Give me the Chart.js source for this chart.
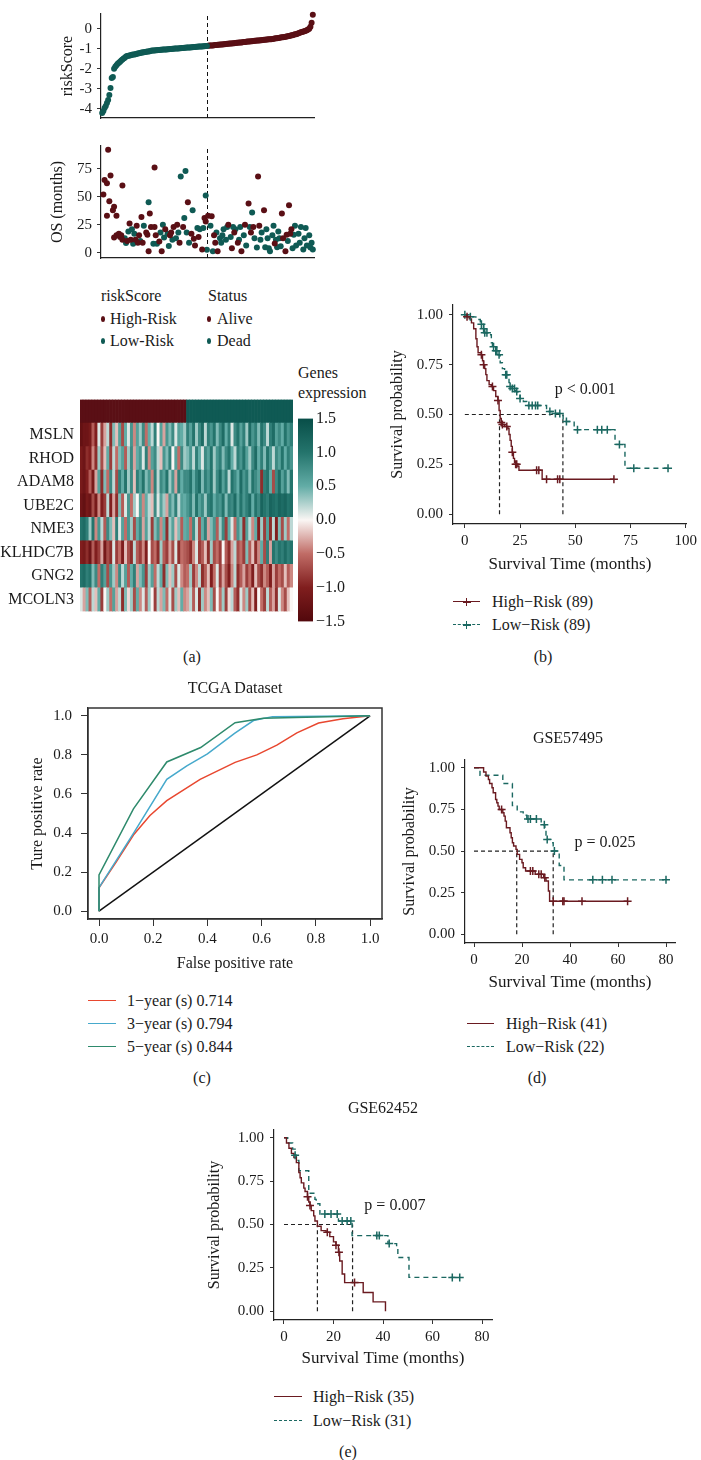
<!DOCTYPE html>
<html>
<head>
<meta charset="utf-8">
<script src="https://cdn.jsdelivr.net/npm/chart.js@4.4.1/dist/chart.umd.min.js"></script>
<style>
  html, body { margin: 0; padding: 0; background: #fff; }
  #page { position: relative; width: 701px; height: 1460px; overflow: hidden;
          font-family: "Liberation Serif", serif; color: #1a1a1a; }
  #page canvas { position: absolute; }
  .t { position: absolute; white-space: nowrap; font-size: 16px; line-height: 1.2; }
</style>
</head>
<body>
<div id="page"></div>
<script>
// ---- (a) risk score curve, ordered low -> high
const riskScoreLow = [
  -4.2, -4.1, -3.95, -3.85, -3.7, -3.55, -3.3, -2.95, -2.45, -2.4,
  -2.0, -1.9, -1.82, -1.75, -1.7, -1.64, -1.58, -1.53, -1.48, -1.44,
  -1.38, -1.36, -1.35, -1.33, -1.32, -1.3, -1.29, -1.28, -1.27, -1.25,
  -1.24, -1.22, -1.21, -1.19, -1.18, -1.17, -1.16, -1.15, -1.14, -1.13,
  -1.12, -1.1, -1.09, -1.09, -1.08, -1.07, -1.07, -1.06, -1.06, -1.05,
  -1.05, -1.04, -1.04, -1.03, -1.03, -1.02, -1.02, -1.01, -1.01, -1.0,
  -1.0, -0.99, -0.99, -0.98, -0.98, -0.97, -0.97, -0.96, -0.96, -0.95,
  -0.95, -0.94, -0.94, -0.93, -0.93, -0.92, -0.92, -0.91, -0.91, -0.9,
  -0.9, -0.89, -0.89, -0.88, -0.88, -0.87, -0.87, -0.86, -0.86
];
const riskScoreHigh = [
  -0.85, -0.84, -0.84, -0.83, -0.83, -0.82, -0.81, -0.81, -0.8, -0.8,
  -0.79, -0.78, -0.78, -0.77, -0.77, -0.76, -0.75, -0.75, -0.74, -0.74,
  -0.73, -0.72, -0.72, -0.71, -0.7, -0.7, -0.69, -0.68, -0.68, -0.67,
  -0.66, -0.66, -0.65, -0.64, -0.64, -0.63, -0.62, -0.62, -0.61, -0.6,
  -0.6, -0.59, -0.59, -0.58, -0.57, -0.57, -0.56, -0.55, -0.55, -0.54,
  -0.54, -0.53, -0.52, -0.52, -0.51, -0.5, -0.49, -0.48, -0.47, -0.46,
  -0.45, -0.44, -0.43, -0.42, -0.41, -0.4, -0.39, -0.38, -0.36, -0.35,
  -0.33, -0.32, -0.3, -0.28, -0.27, -0.25, -0.23, -0.2, -0.18, -0.16,
  -0.14, -0.12, -0.1, -0.07, -0.04, 0.0, 0.1, 0.3, 0.7
];
const riskTicks = [0, -1, -2, -3, -4];

// ---- (a) overall survival per patient rank
const osRank = [
  1, 2, 4, 5, 4, 6, 7, 9, 10, 12, 10, 12, 14, 15, 16, 17, 17, 19, 20, 21,
  23, 22, 24, 25, 27, 26, 28, 29, 30, 31, 32, 33, 34, 35, 37, 38, 39, 39, 40, 41,
  43, 44, 44, 45, 46, 48, 49, 50, 51, 52, 53, 55, 56, 57, 58, 59, 60, 62, 63, 64,
  65, 66, 68, 69, 70, 71, 72, 73, 75, 76, 77, 78, 80, 81, 82, 84, 85, 86, 87, 87, 88,
  89, 91, 92, 93, 94, 95, 96, 97, 99, 100, 101, 102, 104, 105, 106, 108, 109, 110, 111, 112,
  114, 115, 116, 117, 119, 120, 121, 123, 124, 125, 126, 127, 128, 130, 131, 132, 133, 134, 136, 137,
  138, 139, 140, 141, 143, 144, 145, 146, 147, 148, 149, 150, 151, 152, 154, 155, 156, 157, 158, 159,
  160, 161, 162, 163, 165, 166, 167, 169, 170, 171, 172, 174, 175, 176, 177
];
const osMonths = [
  52, 65, 62, 92, 33, 46, 69, 38, 41, 33, 13.5, 15.6, 17, 14, 15.6, 60, 11.7, 13, 8.6, 10.4,
  26, 19, 11.7, 21, 17, 8, 11.7, 24, 9, 15.6, 10.4, 32, 9, 24, 18, 16, 45, 1.3, 35, 23,
  8, 76, 23, 15.6, 8, 10, 18, 1.3, 25, 13.5, 21, 17, 6, 15.6, 18, 11.7, 23, 13, 25, 18,
  9, 68, 23, 31, 73, 18, 45, 9, 17, 38, 12.5, 6.5, 22, 14, 21, 3, 22, 31, 28, 51, 2.6,
  33, 24, 32.5, 1.3, 15.6, 9, 18, 1.3, 13, 9, 15.6, 21, 11.7, 23, 25, 14, 4, 23, 18, 21,
  9, 11.7, 23, 1.3, 15.6, 25, 6.5, 44, 23, 18, 36, 23, 13, 4.7, 68, 24, 11.7, 18, 38, 5,
  21, 13, 4, 1.3, 15.6, 24, 8.3, 11.7, 5, 19, 13, 5.7, 35, 13, 1.3, 16, 10.4, 42.5, 17, 21,
  4, 16, 24, 6.5, 17, 9, 23, 3, 13, 22, 6.5, 15.6, 4.7, 9, 3
];
// 1 = Dead, 0 = Alive
const osDead = [
  0, 0, 0, 0, 0, 0, 0, 0, 0, 0, 0, 0, 0, 0, 0, 0, 0, 1, 1, 0,
  0, 1, 0, 1, 1, 1, 0, 0, 0, 0, 1, 0, 0, 1, 0, 0, 1, 0, 0, 0,
  1, 0, 0, 0, 1, 0, 1, 0, 1, 1, 0, 1, 1, 0, 0, 1, 0, 1, 0, 1,
  0, 1, 0, 1, 1, 1, 0, 1, 0, 1, 0, 0, 1, 0, 1, 0, 1, 0, 0, 1, 1,
  0, 1, 0, 1, 0, 0, 1, 0, 1, 1, 1, 1, 1, 1, 0, 1, 0, 1, 0, 1,
  0, 1, 1, 0, 1, 0, 1, 0, 1, 0, 1, 0, 1, 1, 0, 0, 1, 1, 0, 1,
  1, 1, 1, 1, 1, 1, 0, 1, 1, 1, 1, 1, 0, 0, 0, 0, 1, 0, 0, 0,
  1, 1, 1, 1, 1, 1, 1, 1, 1, 1, 1, 1, 1, 1, 1
];
const osTicks = [0, 25, 50, 75];

// ---- (a) heatmap, 36 high-risk columns then 36 low-risk columns
const genes = ['MSLN', 'RHOD', 'ADAM8', 'UBE2C', 'NME3', 'KLHDC7B', 'GNG2', 'MCOLN3'];
const heatHighCols = 36;
const exprMSLN = [-1.3,-1.2,-1.2,-1.1,-0.6,-1.0,0.1,-0.8,-0.3,0.2,-0.9,0.4,-0.2,0.6,-0.7,0.5,0.1,0.7,-0.4,0.6,0.3,0.8,-0.5,0.5,0.2,0.9,0.0,0.6,-0.3,0.7,0.4,0.8,0.1,0.6,0.5,0.3,
  0.9,0.6,1.0,0.3,0.8,1.1,0.2,0.9,0.7,1.0,0.4,0.8,1.1,0.5,0.9,0.1,0.8,1.0,0.6,0.9,0.3,1.1,0.7,0.9,0.4,1.0,0.8,0.2,0.9,1.1,0.6,0.8,0.5,1.0,0.7,0.9];
const exprRHOD = [-1.1,-1.2,-0.9,-1.0,-0.4,-0.9,0.3,-0.7,-0.2,0.5,-0.8,0.2,-0.5,0.4,0.6,-0.6,0.3,0.8,-0.3,0.5,0.7,0.1,0.9,-0.4,0.6,0.8,0.2,-0.2,0.7,0.4,0.9,0.0,0.6,-0.5,0.8,0.3,
  0.4,0.7,0.2,0.9,0.5,0.1,0.8,0.6,1.0,0.3,0.7,0.9,0.4,0.8,1.0,0.5,0.2,0.9,0.7,1.0,0.6,0.3,0.8,1.1,0.5,0.9,0.4,1.0,0.7,0.2,0.8,0.6,1.0,0.5,0.9,0.7];
const exprADAM8 = [-1.1,-1.2,-1.0,-0.6,-1.1,-0.3,0.6,-0.9,0.4,-0.5,0.8,0.2,-0.7,0.9,0.5,1.0,0.3,0.8,-0.2,0.9,0.6,1.0,0.4,0.7,-0.4,0.9,0.2,0.8,0.6,1.0,0.3,0.7,-0.3,0.9,0.5,0.8,
  0.8,1.0,0.5,0.9,1.1,0.4,0.9,0.7,1.0,0.3,0.8,1.1,0.6,0.9,0.2,1.0,0.8,0.5,1.1,0.7,0.9,0.4,1.0,0.8,0.6,-0.9,0.9,1.0,0.5,-0.7,0.8,1.1,0.6,0.9,0.4,1.0];
const exprUBE2C = [-1.2,-1.3,-1.1,-1.2,-0.7,-1.1,-0.4,-1.0,-0.8,0.2,-1.0,-0.3,-0.9,0.4,-0.6,0.1,0.7,-0.5,0.3,0.0,0.6,-0.4,0.5,0.2,-0.2,0.8,0.1,0.6,0.3,-0.3,0.7,0.4,0.9,0.2,0.6,0.5,
  0.7,0.9,0.4,1.0,0.6,0.8,0.3,0.9,1.0,0.5,0.8,0.7,1.0,0.4,0.9,0.8,1.1,0.6,1.0,0.7,0.9,1.1,0.5,1.0,0.8,1.2,1.0,0.9,1.2,1.1,1.0,1.2,1.1,1.2,1.0,1.1];
const exprNME3 = [1.0,1.1,0.9,0.3,1.0,-0.4,0.7,0.2,-0.6,0.8,0.4,-0.2,0.9,0.1,0.6,-0.5,0.7,0.3,-0.7,0.5,0.8,-0.3,0.6,0.2,-0.8,0.4,0.7,-0.4,0.5,-0.9,0.3,0.6,-0.2,0.4,-0.6,0.5,
  0.6,-0.5,0.8,0.2,-0.7,0.5,0.9,-0.3,0.4,0.7,-0.6,0.3,0.8,-0.8,0.5,0.1,-0.5,0.7,0.4,-0.9,0.6,0.2,-0.4,0.5,-1.0,0.3,-0.8,0.6,-0.9,0.2,-1.0,0.4,-0.7,0.3,-0.5,0.2];
const exprKLHDC7B = [-1.0,-1.1,-0.9,-1.2,-0.6,-1.0,-0.8,-0.3,-1.1,-0.7,-0.9,0.1,-0.8,-0.5,-1.0,-0.2,-0.7,-0.9,0.2,-0.6,-0.8,-0.4,-1.0,0.0,-0.7,-0.5,-0.9,0.3,-0.6,-0.8,-0.3,-0.7,0.1,-0.9,-0.5,-0.6,
  -0.7,-0.9,-0.4,0.1,-0.8,-0.6,-0.2,-0.9,0.3,-0.7,-0.5,-0.8,0.0,-0.6,-0.9,-0.3,0.2,-0.7,-0.5,-0.8,0.4,-0.6,-0.2,-0.9,-0.4,0.5,-0.7,0.9,-0.3,1.0,0.8,1.0,0.9,1.1,0.9,1.0];
const exprGNG2 = [1.0,1.1,0.9,1.0,0.4,0.8,-0.5,0.9,0.6,-0.7,0.7,0.3,-0.4,0.8,0.2,0.6,-0.6,0.5,0.9,-0.3,0.4,0.7,-0.8,0.3,0.6,-0.5,0.2,0.5,-0.9,0.4,-0.2,0.3,-0.7,0.1,-0.4,-0.6,
  -0.5,0.3,-0.8,-0.4,0.2,-0.9,-0.6,-0.2,-1.0,-0.5,0.1,-0.8,-0.3,-0.7,-1.0,-0.4,0.2,-0.9,-0.6,-0.3,-0.8,-0.5,-1.0,-0.2,-0.7,-0.9,-0.4,-0.6,-1.0,-0.3,-0.8,-0.5,-0.7,-0.2,-0.6,-0.4];
const exprMCOLN3 = [0.1,-0.3,0.4,-0.6,0.2,-0.2,0.5,-0.8,0.0,0.3,-0.5,0.6,-0.3,0.2,-0.9,0.4,-0.1,0.3,-0.7,0.5,-0.4,0.1,-0.6,0.3,0.0,-0.8,0.2,-0.3,0.4,-0.5,0.1,-0.7,0.3,-0.2,0.5,-0.4,
  -0.3,0.2,-0.6,0.1,-0.9,0.3,-0.4,-0.2,0.4,-0.7,0.0,-0.5,0.3,-0.8,-0.1,0.2,-0.6,-0.9,0.1,-0.4,0.3,-0.7,-0.2,-1.0,0.0,-0.5,-0.8,0.2,-0.6,-0.3,-0.9,0.1,-0.4,-0.7,-0.2,0.0];
const heatRows = [exprMSLN, exprRHOD, exprADAM8, exprUBE2C, exprNME3, exprKLHDC7B, exprGNG2, exprMCOLN3];
const colorbarTicks = [-1.5, -1.0, -0.5, 0.0, 0.5, 1.0, 1.5];

// ---- (b) TCGA Kaplan-Meier
const kmB_highT = [0,1,2,3,4,5,5.5,6,7.5,8,8.5,9,9.5,10,11,12,13,14,15,15.5,16,16.5,17,18,19.5,20,20.5,21,21.5,22,22.5,23,24,24.5,35];
const kmB_highS = [1,0.99,0.98,0.96,0.93,0.88,0.84,0.81,0.80,0.77,0.75,0.73,0.70,0.67,0.65,0.64,0.62,0.59,0.57,0.52,0.48,0.46,0.45,0.44,0.43,0.40,0.37,0.34,0.31,0.28,0.26,0.25,0.24,0.22,0.175];
const kmB_highEnd = 67.5;
const kmB_lowT = [0,2,5,7,8.5,9,10.5,12,12.5,14,15,16,17,18,20,20.5,21.5,23,24,25,26.5,28,37,40,44.5,49.5,68,72.5];
const kmB_lowS = [1,0.99,0.977,0.953,0.93,0.91,0.90,0.86,0.84,0.82,0.80,0.76,0.73,0.70,0.66,0.64,0.63,0.615,0.60,0.58,0.565,0.545,0.515,0.505,0.465,0.424,0.35,0.23];
const kmB_lowEnd = 92;
const censB_highT = [1,7.5,8.5,12.5,15,16.5,17,19,21.5,23,23.5,32.5,33.5,37,42,43,67.5];
const censB_highS = [0.99,0.80,0.75,0.64,0.57,0.46,0.45,0.44,0.31,0.25,0.25,0.22,0.22,0.175,0.175,0.175,0.175];
const censB_lowT = [0,2.5,7.5,8.5,9,10,13,14,14.5,15.5,18.5,19,20.5,21.5,22.5,23.5,25,29,30.5,32,33,38.5,41,43,46,51,60,62,64.5,70,76.5,92];
const censB_lowS = [1,0.99,0.953,0.93,0.91,0.91,0.84,0.82,0.82,0.80,0.70,0.70,0.64,0.63,0.63,0.615,0.58,0.545,0.545,0.545,0.545,0.515,0.505,0.505,0.465,0.424,0.424,0.424,0.424,0.35,0.23,0.23];
const medianB = [15.7, 44.4];
const kmB_xTicks = [0, 25, 50, 75, 100];

// ---- (c) ROC, TCGA
const roc1_fpr = [0,0,0.065,0.127,0.188,0.25,0.373,0.502,0.582,0.656,0.73,0.81,0.9,1.0];
const roc1_tpr = [0,0.12,0.255,0.39,0.49,0.566,0.675,0.762,0.80,0.85,0.913,0.963,0.985,1.0];
const roc3_fpr = [0,0,0.127,0.25,0.324,0.4,0.5,0.57,0.64,1.0];
const roc3_tpr = [0,0.12,0.398,0.675,0.744,0.805,0.91,0.976,0.996,1.0];
const roc5_fpr = [0,0,0.127,0.25,0.375,0.502,0.606,1.0];
const roc5_tpr = [0,0.186,0.524,0.764,0.838,0.965,0.988,1.0];
const rocTicks = [0, 0.2, 0.4, 0.6, 0.8, 1.0];
const rocLabels = ['1\u2212year (s) 0.714', '3\u2212year (s) 0.794', '5\u2212year (s) 0.844'];

// ---- (d) GSE57495
const kmD_highT = [0,4,5,6,6.5,7.5,8,9,9.5,10,10.5,12,12.5,13,13.5,15,15.5,16,16.5,17.5,18,19,20,20.5,21.5,25.5,29,30,31,31.5];
const kmD_highS = [1,0.975,0.95,0.93,0.906,0.88,0.85,0.81,0.79,0.77,0.75,0.73,0.71,0.68,0.64,0.61,0.58,0.55,0.53,0.51,0.48,0.45,0.43,0.40,0.38,0.36,0.34,0.32,0.26,0.198];
const kmD_highEnd = 64;
const kmD_lowT = [0,2.5,12,16,18,20.5,22,28,29.5,30,32,33,35.5,37.5];
const kmD_lowS = [1,0.955,0.906,0.773,0.735,0.715,0.693,0.658,0.635,0.57,0.55,0.5,0.413,0.327];
const kmD_lowEnd = 80;
const censD_highT = [11.5,23.5,24.5,27,28,29.5,33,37,37.5,45,64];
const censD_highS = [0.75,0.38,0.38,0.36,0.36,0.34,0.198,0.198,0.198,0.198,0.198];
const censD_lowT = [22.5,23.5,26,29.3,30.5,33.5,49.5,53.5,57.5,80];
const censD_lowS = [0.693,0.693,0.693,0.658,0.57,0.5,0.327,0.327,0.327,0.327];
const medianD = [17.8, 33];

// ---- (e) GSE62452
const kmE_highT = [0,1,2,3,4,5,6,6.5,7,8,8.5,9.5,10,10.5,11,12,12.5,13.5,15,17,18.5,20,21,22,22.5,23.5,24.5,32,36,41];
const kmE_highS = [1,0.97,0.94,0.91,0.886,0.857,0.80,0.77,0.74,0.71,0.69,0.66,0.63,0.61,0.58,0.55,0.52,0.49,0.465,0.455,0.43,0.40,0.38,0.34,0.29,0.215,0.165,0.108,0.054,0];
const kmE_highEnd = 41;
const kmE_lowT = [0,1.5,3.5,4.5,5,6,10,12.5,13,14.5,22,27.5,42,45.5,46,50.5];
const kmE_lowS = [1,0.97,0.935,0.90,0.87,0.81,0.68,0.645,0.62,0.56,0.52,0.436,0.39,0.36,0.31,0.195];
const kmE_lowEnd = 71;
const censE_highT = [9.5,10.5,17.5,21,22.2,28.5];
const censE_highS = [0.66,0.61,0.455,0.38,0.34,0.165];
const censE_lowT = [4.5,16.5,19,21.5,23.5,25.5,27,37.5,38.5,42.5,68,71];
const censE_lowS = [0.90,0.56,0.56,0.56,0.52,0.52,0.52,0.436,0.436,0.39,0.195,0.195];
const medianE = [13.5, 27.7];
const kmDE_xTicks = [0, 20, 40, 60, 80];
const survTicks = [0, 0.25, 0.5, 0.75, 1];

// ---------------------------------------------------------------
const FONT = '"Liberation Serif", serif';
const INK = '#1a1a1a';
const RED = '#5a0f15', TEAL = '#0f5a54';
const KM_HIGH = '#6a1a20', KM_LOW = '#1b6861';
Chart.defaults.font.family = FONT;
Chart.defaults.color = INK;
Chart.defaults.animation = false;

const page = document.getElementById('page');

// palette for expression values
const palVals = [-1.5, -1.0, -0.5, 0.0, 0.5, 1.0, 1.5];
const palCols = [[82,8,12],[128,30,30],[192,108,102],[250,246,244],[98,172,166],[36,116,108],[8,78,72]];
function heatColor(v) {
  v = Math.max(-1.5, Math.min(1.5, v));
  let i = 0;
  while (i < palVals.length - 2 && v > palVals[i + 1]) i++;
  const f = (v - palVals[i]) / (palVals[i + 1] - palVals[i]);
  const c = palCols[i].map((a, k) => Math.round(a + (palCols[i + 1][k] - a) * f));
  return `rgb(${c[0]},${c[1]},${c[2]})`;
}

function txt(str, x, y, align, size) {
  const d = document.createElement('div');
  d.className = 't';
  d.textContent = str;
  d.style.left = x + 'px';
  d.style.top = y + 'px';
  d.style.transform = align === 'left' ? 'translate(0,-50%)' : 'translate(-50%,-50%)';
  if (size) d.style.fontSize = size + 'px';
  page.appendChild(d);
}

function swatch(x0, x1, y, color, dashed, cross) {
  const d = document.createElement('div');
  d.style.cssText = `position:absolute;left:${x0}px;top:${y - 0.75}px;width:${x1 - x0}px;height:0;` +
    `border-top:1.5px ${dashed ? 'dashed' : 'solid'} ${color};`;
  page.appendChild(d);
  if (cross) {
    const c = document.createElement('div');
    c.style.cssText = `position:absolute;left:${(x0 + x1) / 2 - 4}px;top:${y - 4}px;width:8px;height:8px;`;
    c.innerHTML = `<div style="position:absolute;left:3.3px;top:0;width:1.5px;height:8px;background:${color}"></div>` +
      `<div style="position:absolute;left:0;top:3.3px;width:8px;height:1.5px;background:${color}"></div>`;
    page.appendChild(c);
  }
}

function dot(x, y, color) {
  const d = document.createElement('div');
  d.style.cssText = `position:absolute;left:${x - 2.3}px;top:${y - 3}px;width:4.6px;height:6px;border-radius:50%;background:${color};`;
  page.appendChild(d);
}

function makeCanvas(box) {
  const c = document.createElement('canvas');
  c.width = box[2] - box[0];
  c.height = box[3] - box[1];
  c.style.left = box[0] + 'px';
  c.style.top = box[1] + 'px';
  c.style.width = c.width + 'px';
  c.style.height = c.height + 'px';
  page.appendChild(c);
  return c;
}

function linAxis(pos, o) {
  return {
    type: 'linear', position: pos, min: o.min, max: o.max, stacked: o.stacked || false,
    afterFit: s => { if (pos === 'left' || pos === 'right') s.width = o.size; else s.height = o.size; },
    afterBuildTicks: s => { s.ticks = (o.ticks || []).map(v => ({ value: v })); },
    ticks: { display: !!o.ticks, font: { size: o.tickSize || 15 }, color: INK, padding: o.pad ?? 5,
             autoSkip: false, maxRotation: 0, callback: o.fmt || (v => String(v)) },
    grid: { display: !!o.tl, drawOnChartArea: false, drawTicks: !!o.tl, tickLength: o.tl || 0,
            color: '#333', lineWidth: 1 },
    border: { display: o.border !== false, color: '#222', width: 1.2 },
    title: o.title ? { display: true, text: o.title, font: { size: o.titleSize || 16 }, color: INK, padding: { top: 4, bottom: 4 } }
                   : { display: false }
  };
}

function baseOptions(box, area) {
  return {
    responsive: false, devicePixelRatio: 1, animation: false,
    layout: { padding: { left: 0, top: area[1] - box[1], right: box[2] - area[2], bottom: 0 } },
    plugins: { legend: { display: false }, tooltip: { enabled: false }, title: { display: false } }
  };
}

// text placed at data coordinates
Chart.register({
  id: 'notes',
  afterDatasetsDraw(ch, args, opts) {
    const items = opts.items || [];
    const c = ch.ctx;
    c.save();
    c.fillStyle = INK;
    c.font = `16px ${FONT}`;
    c.textAlign = 'center';
    c.textBaseline = 'middle';
    items.forEach(n => c.fillText(n.text, ch.scales.x.getPixelForValue(n.x), ch.scales.y.getPixelForValue(n.y)));
    c.restore();
  }
});

const pts = (xs, ys) => xs.map((x, i) => ({ x, y: ys[i] }));

// ================= (a) riskScore =================
{
  const box = [54, 0, 320, 132], area = [101, 0, 314, 127];
  const n = riskScoreLow.length;
  const opts = baseOptions(box, area);
  opts.scales = {
    x: linAxis('bottom', { min: -1, max: 178, size: box[3] - area[3] }),
    y: linAxis('left', { min: -4.45, max: 0.735, size: area[0] - box[0], ticks: riskTicks, tl: 4, pad: 5, title: 'riskScore' })
  };
  new Chart(makeCanvas(box), {
    type: 'scatter',
    data: { datasets: [
      { data: riskScoreLow.map((v, i) => ({ x: i, y: v })), backgroundColor: TEAL, pointRadius: 3, borderWidth: 0, clip: false },
      { data: riskScoreHigh.map((v, i) => ({ x: i + n, y: v })), backgroundColor: RED, pointRadius: 3, borderWidth: 0, clip: false },
      { data: [{ x: n - 0.5, y: -4.45 }, { x: n - 0.5, y: 0.735 }], showLine: true, borderColor: '#111',
        borderWidth: 1, borderDash: [4, 3], pointRadius: 0 }
    ] },
    options: opts
  });
}

// ================= (a) OS =================
{
  const box = [44, 132, 320, 272], area = [101, 138, 314, 266];
  const n = riskScoreLow.length;
  const opts = baseOptions(box, area);
  opts.scales = {
    x: linAxis('bottom', { min: -1, max: 178, size: box[3] - area[3] }),
    y: linAxis('left', { min: -4.7, max: 95.3, size: area[0] - box[0], ticks: osTicks, tl: 4, pad: 5, title: 'OS (months)' })
  };
  const alive = [], dead = [];
  osRank.forEach((r, i) => (osDead[i] ? dead : alive).push({ x: r, y: osMonths[i] }));
  new Chart(makeCanvas(box), {
    type: 'scatter',
    data: { datasets: [
      { data: alive, backgroundColor: RED, pointRadius: 3, borderWidth: 0, clip: false },
      { data: dead, backgroundColor: TEAL, pointRadius: 3, borderWidth: 0, clip: false },
      { data: [{ x: n - 0.5, y: -4.7 }, { x: n - 0.5, y: 95.3 }], showLine: true, borderColor: '#111',
        borderWidth: 1, borderDash: [4, 3], pointRadius: 0 }
    ] },
    options: opts
  });
}

// (a) legend
txt('riskScore', 101, 296, 'left');
txt('Status', 208, 296, 'left');
dot(103, 319, RED); txt('High-Risk', 110, 319, 'left');
dot(103, 341, TEAL); txt('Low-Risk', 110, 341, 'left');
dot(209, 319, RED); txt('Alive', 217, 319, 'left');
dot(209, 341, TEAL); txt('Dead', 217, 341, 'left');

// ================= (a) heatmap =================
{
  const box = [0, 384, 296, 627], area = [80, 388, 293, 627];
  const opts = baseOptions(box, area);
  opts.scales = {
    x: { type: 'category', stacked: true, display: false },
    y: linAxis('left', { min: 0, max: 9, stacked: true, size: area[0] - box[0], border: false,
      ticks: genes.map((g, i) => genes.length - 0.5 - i), pad: 6, tickSize: 16,
      fmt: v => genes[Math.round(genes.length - 0.5 - v)] })
  };
  const datasets = [];
  for (let r = heatRows.length - 1; r >= 0; r--) {
    datasets.push({ data: heatRows[r].map(() => 1), backgroundColor: heatRows[r].map(heatColor),
                    borderWidth: 0, barPercentage: 1, categoryPercentage: 1 });
  }
  datasets.push({ data: exprMSLN.map(() => 1),
                  backgroundColor: exprMSLN.map((_, i) => i < heatHighCols ? RED : TEAL),
                  borderWidth: 0, barPercentage: 1, categoryPercentage: 1 });
  new Chart(makeCanvas(box), {
    type: 'bar',
    data: { labels: exprMSLN.map((_, i) => i), datasets },
    options: opts
  });
}

// colour bar
{
  const box = [298, 406, 356, 634], area = [298, 414, 313, 627];
  const opts = baseOptions(box, area);
  opts.layout.padding = { left: 0, top: area[1] - box[1], right: 0, bottom: box[3] - area[3] };
  opts.scales = {
    x: { type: 'category', display: false },
    y: linAxis('right', { min: -1.5, max: 1.5, size: box[2] - area[2], border: false, ticks: colorbarTicks, pad: 3, tickSize: 16,
      fmt: v => (v < 0 ? '\u2212' : '') + Math.abs(v).toFixed(1) })
  };
  new Chart(makeCanvas(box), {
    type: 'bar',
    data: { labels: [''], datasets: [] },
    options: opts,
    plugins: [{
      id: 'colorbar',
      beforeDatasetsDraw(ch) {
        const a = ch.chartArea, y = ch.scales.y, c = ch.ctx;
        const g = c.createLinearGradient(0, y.getPixelForValue(1.5), 0, y.getPixelForValue(-1.5));
        palVals.forEach(v => g.addColorStop((1.5 - v) / 3, heatColor(v)));
        c.fillStyle = g;
        c.fillRect(a.left, a.top, a.right - a.left, a.bottom - a.top);
      }
    }]
  });
}
txt('Genes', 298, 373, 'left');
txt('expression', 298, 393, 'left');
txt('(a)', 192, 657);

// ================= KM helper =================
function kmChart(box, area, c) {
  const opts = baseOptions(box, area);
  opts.scales = {
    x: linAxis('bottom', { min: c.xMin, max: c.xMax, size: box[3] - area[3], ticks: c.xTicks, tl: 4, pad: 4,
                           title: 'Survival Time (months)', titleSize: 17 }),
    y: linAxis('left', { min: c.yMin, max: c.yMax, size: area[0] - box[0], ticks: survTicks, tl: 4, pad: 6,
                         fmt: v => v.toFixed(2), title: 'Survival probability' })
  };
  opts.plugins.notes = { items: [c.note] };
  const line = (t, s, end, color, dash) => ({
    data: pts(t, s).concat([{ x: end, y: s[s.length - 1] }]), showLine: true, stepped: 'before',
    borderColor: color, borderWidth: 1.4, borderDash: dash, pointRadius: 0, clip: false
  });
  const cens = (t, s, color) => ({
    data: pts(t, s), showLine: false, pointStyle: 'cross', pointRadius: 4,
    borderColor: color, borderWidth: 1.5, clip: false
  });
  const med = c.median;
  const dash = { showLine: true, borderColor: '#222', borderWidth: 1.2, borderDash: [4, 3], pointRadius: 0 };
  new Chart(makeCanvas(box), {
    type: 'scatter',
    data: { datasets: [
      cens(c.chT, c.chS, KM_HIGH),
      cens(c.clT, c.clS, KM_LOW),
      line(c.hT, c.hS, c.hEnd, KM_HIGH, []),
      line(c.lT, c.lS, c.lEnd, KM_LOW, [5, 4]),
      Object.assign({ data: [{ x: 0, y: 0.5 }, { x: med[1], y: 0.5 }] }, dash),
      Object.assign({ data: [{ x: med[0], y: 0 }, { x: med[0], y: 0.5 }] }, dash),
      Object.assign({ data: [{ x: med[1], y: 0 }, { x: med[1], y: 0.5 }] }, dash)
    ] },
    options: opts
  });
}

// ================= (b) =================
kmChart([384, 290, 701, 579], [453, 302, 690, 524], {
  xMin: -5.36, xMax: 100.5, yMin: -0.0495, yMax: 1.0495, xTicks: kmB_xTicks,
  hT: kmB_highT, hS: kmB_highS, hEnd: kmB_highEnd, lT: kmB_lowT, lS: kmB_lowS, lEnd: kmB_lowEnd,
  chT: censB_highT, chS: censB_highS, clT: censB_lowT, clS: censB_lowS,
  median: medianB, note: { x: 54.5, y: 0.624, text: 'p < 0.001' }
});
swatch(453, 480, 602, KM_HIGH, false, true); txt('High\u2212Risk (89)', 492, 602, 'left');
swatch(453, 480, 625, KM_LOW, true, true); txt('Low\u2212Risk (89)', 492, 625, 'left');
txt('(b)', 543, 657);

// ================= (c) ROC =================
{
  const box = [24, 690, 390, 977], area = [88, 704, 382, 919];
  const opts = baseOptions(box, area);
  opts.scales = {
    x: linAxis('bottom', { min: -0.0406, max: 1.044, size: box[3] - area[3], ticks: rocTicks, tl: 7, pad: 4,
                           fmt: v => v.toFixed(1), title: 'False positive rate' }),
    y: linAxis('left', { min: -0.0402, max: 1.0402, size: area[0] - box[0], ticks: rocTicks, tl: 7, pad: 9,
                         fmt: v => v.toFixed(1), title: 'Ture positive rate' })
  };
  const rl = (x, y, color) => ({ data: pts(x, y), showLine: true, borderColor: color, borderWidth: 1.5, pointRadius: 0, tension: 0 });
  new Chart(makeCanvas(box), {
    type: 'scatter',
    data: { datasets: [
      rl(roc5_fpr, roc5_tpr, '#2e8a6c'),
      rl(roc3_fpr, roc3_tpr, '#46a9cc'),
      rl(roc1_fpr, roc1_tpr, '#e8472f'),
      rl([0, 1], [0, 1], '#111')
    ] },
    options: opts,
    plugins: [{
      id: 'boxFrame',
      afterDraw(ch) {
        const a = ch.chartArea, c = ch.ctx;
        c.save(); c.strokeStyle = '#333'; c.lineWidth = 1.5;
        c.strokeRect(a.left, a.top, a.right - a.left, a.bottom - a.top);
        c.restore();
      }
    }]
  });
}
txt('TCGA Dataset', 235, 688);
swatch(88, 116, 1001, '#e8472f', false, false); txt(rocLabels[0], 127, 1001, 'left');
swatch(88, 116, 1024, '#46a9cc', false, false); txt(rocLabels[1], 127, 1024, 'left');
swatch(88, 116, 1047, '#2e8a6c', false, false); txt(rocLabels[2], 127, 1047, 'left');
txt('(c)', 202, 1078);

// ================= (d) =================
kmChart([396, 745, 690, 997], [465, 755, 675, 943], {
  xMin: -3.75, xMax: 83.75, yMin: -0.0526, yMax: 1.047, xTicks: kmDE_xTicks,
  hT: kmD_highT, hS: kmD_highS, hEnd: kmD_highEnd, lT: kmD_lowT, lS: kmD_lowS, lEnd: kmD_lowEnd,
  chT: censD_highT, chS: censD_highS, clT: censD_lowT, clS: censD_lowS,
  median: medianD, note: { x: 54.6, y: 0.55, text: 'p = 0.025' }
});
txt('GSE57495', 568, 738);
swatch(467, 494, 1024, KM_HIGH, false, false); txt('High\u2212Risk (41)', 506, 1024, 'left');
swatch(467, 494, 1047, KM_LOW, true, false); txt('Low\u2212Risk (22)', 506, 1047, 'left');
txt('(d)', 537, 1078);

// ================= (e) =================
kmChart([201, 1115, 500, 1373], [274, 1125, 492, 1320], {
  xMin: -4.04, xMax: 84.04, yMin: -0.0506, yMax: 1.045, xTicks: kmDE_xTicks,
  hT: kmE_highT, hS: kmE_highS, hEnd: kmE_highEnd, lT: kmE_lowT, lS: kmE_lowS, lEnd: kmE_lowEnd,
  chT: censE_highT, chS: censE_highS, clT: censE_lowT, clS: censE_lowS,
  median: medianE, note: { x: 44.8, y: 0.61, text: 'p = 0.007' }
});
txt('GSE62452', 383, 1108);
swatch(274, 302, 1397, KM_HIGH, false, false); txt('High\u2212Risk (35)', 313, 1397, 'left');
swatch(274, 302, 1421, KM_LOW, true, false); txt('Low\u2212Risk (31)', 313, 1421, 'left');
txt('(e)', 348, 1452);
</script>
</body>
</html>
